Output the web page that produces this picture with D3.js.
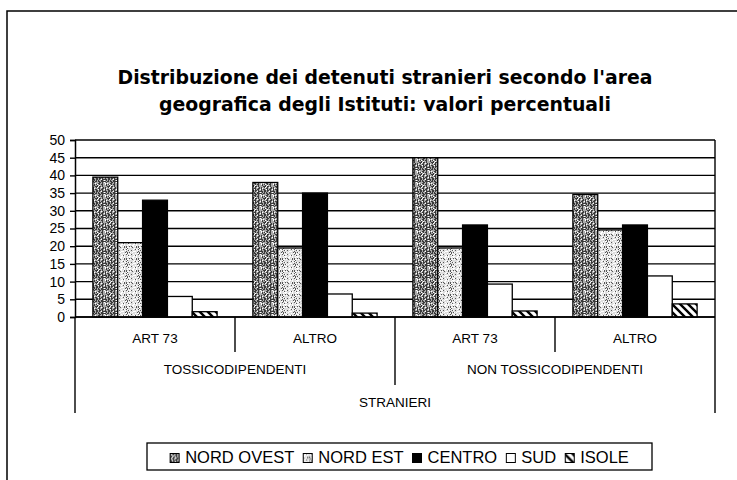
<!DOCTYPE html>
<html>
<head>
<meta charset="utf-8">
<script src="https://cdn.jsdelivr.net/npm/d3@7"></script>
<style>
  html, body { margin: 0; padding: 0; background: #fff; }
  svg { display: block; }
  text { font-family: "Liberation Sans", Arial, sans-serif; fill: #000; }
</style>
</head>
<body>
<svg id="chart" width="737" height="480"></svg>
<script>
// Groups along the category axis (inner level) and their parents
const groups = ["T-ART73", "T-ALTRO", "N-ART73", "N-ALTRO"];
const groupLabels = ["ART 73", "ALTRO", "ART 73", "ALTRO"];
const parentLabels = ["TOSSICODIPENDENTI", "NON TOSSICODIPENDENTI"];
const topLabel = "STRANIERI";

// Geographic areas (series)
const series = ["NORD OVEST", "NORD EST", "CENTRO", "SUD", "ISOLE"];

// Percentage values per area, one entry per group
const nordOvest = [39.5, 38, 45, 34.6];
const nordEst   = [21, 19.5, 19.5, 24.6];
const centro    = [33, 35, 26, 26];
const sud       = [5.8, 6.5, 9.3, 11.6];
const isole     = [1.5, 1.1, 1.7, 3.7];

const yTicks = [0, 5, 10, 15, 20, 25, 30, 35, 40, 45, 50];

const titleLines = [
  "Distribuzione dei detenuti stranieri secondo l'area",
  "geografica degli Istituti: valori percentuali"
];

const valuesBySeries = [nordOvest, nordEst, centro, sud, isole];

const svg = d3.select("#chart");

// ---- fill patterns ----
const defs = svg.append("defs");

// deterministic pseudo-noise for the stippled fills
function hashNoise(i, j, seed) {
  const s = Math.sin(i * 127.1 + j * 311.7 + seed * 74.7) * 43758.5453;
  return s - Math.floor(s);
}

// NORD OVEST: dark stipple with vertical grain
const pNO = defs.append("pattern").attr("id", "pNO")
  .attr("patternUnits", "userSpaceOnUse").attr("width", 12).attr("height", 12);
pNO.append("rect").attr("width", 12).attr("height", 12).attr("fill", "#aaaaaa");
for (let i = 0; i < 12; i++) for (let j = 0; j < 12; j++) {
  const n = hashNoise(i, j, 1);
  const dark = (i % 3 === 0) ? n < 0.65 : n < 0.3;
  if (dark) pNO.append("rect").attr("x", i).attr("y", j).attr("width", 1).attr("height", 1).attr("fill", "#3a3a3a");
  else if (n > 0.88) pNO.append("rect").attr("x", i).attr("y", j).attr("width", 1).attr("height", 1).attr("fill", "#fff");
}

// NORD EST: light speckle
const pNE = defs.append("pattern").attr("id", "pNE")
  .attr("patternUnits", "userSpaceOnUse").attr("width", 12).attr("height", 12);
pNE.append("rect").attr("width", 12).attr("height", 12).attr("fill", "#dedede");
for (let i = 0; i < 12; i++) for (let j = 0; j < 12; j++) {
  const n = hashNoise(i, j, 7);
  if (n < 0.2) pNE.append("rect").attr("x", i).attr("y", j).attr("width", 1).attr("height", 1).attr("fill", "#555");
  else if (n > 0.75) pNE.append("rect").attr("x", i).attr("y", j).attr("width", 1).attr("height", 1).attr("fill", "#fff");
}

// ISOLE: diagonal hatch
const pIS = defs.append("pattern").attr("id", "pIS")
  .attr("patternUnits", "userSpaceOnUse").attr("width", 8).attr("height", 8);
pIS.append("rect").attr("width", 8).attr("height", 8).attr("fill", "#fff");
pIS.append("path").attr("d", "M-2,-2 L10,10 M-2,6 L2,10 M6,-2 L10,2")
  .attr("stroke", "#000").attr("stroke-width", 2.4);

const fills = ["url(#pNO)", "url(#pNE)", "#000", "#fff", "url(#pIS)"];

// ---- outer frame ----
svg.append("path").attr("d", "M7,480 V11 H737")
  .attr("fill", "none").attr("stroke", "#000").attr("stroke-width", 1.5);

// ---- title ----
const title = svg.append("g").attr("text-anchor", "middle")
  .style("font-weight", "bold").style("font-size", "20px");
const titleWidths = [535, 452];
titleLines.forEach((t, i) => {
  title.append("text").attr("x", 385).attr("y", 84 + i * 27)
    .style("font-family", "'DejaVu Sans Condensed', 'DejaVu Sans', sans-serif")
    .attr("textLength", titleWidths[i]).attr("lengthAdjust", "spacingAndGlyphs")
    .text(t);
});

// ---- scales ----
const plot = { left: 75, right: 715, top: 140, bottom: 317 };
const x0 = d3.scaleBand().domain(groups).range([plot.left, plot.right]).padding(0);
const x1 = d3.scaleBand().domain(series).range([0, x0.bandwidth()])
  .paddingInner(0).paddingOuter(0.72);
const y = d3.scaleLinear().domain([0, 50]).range([plot.bottom, plot.top]);

// ---- gridlines ----
svg.append("g").selectAll("line").data(yTicks).join("line")
  .attr("x1", plot.left).attr("x2", plot.right)
  .attr("y1", d => y(d)).attr("y2", d => y(d))
  .attr("stroke", "#000").attr("stroke-width", 1.4);

// right edge of plot area
svg.append("line").attr("x1", plot.right).attr("x2", plot.right)
  .attr("y1", plot.top).attr("y2", plot.bottom)
  .attr("stroke", "#000").attr("stroke-width", 1.4);

// ---- y axis ----
const yAxis = d3.axisLeft(y).tickValues(yTicks).tickSize(5).tickPadding(5);
const yg = svg.append("g").attr("transform", `translate(${plot.left},0)`).call(yAxis);
yg.select(".domain").attr("stroke", "#000").attr("stroke-width", 1.5);
yg.selectAll(".tick line").attr("stroke", "#000").attr("stroke-width", 1.4);
yg.selectAll(".tick text").style("font-size", "14px").attr("fill", "#000")
  .style("font-family", "'Liberation Sans', Arial, sans-serif");

// ---- bars ----
const barData = [];
groups.forEach((g, gi) => {
  series.forEach((s, si) => {
    barData.push({ group: g, series: s, si, value: valuesBySeries[si][gi] });
  });
});
svg.append("g").selectAll("rect").data(barData).join("rect")
  .attr("x", d => x0(d.group) + x1(d.series))
  .attr("y", d => y(d.value))
  .attr("width", x1.bandwidth())
  .attr("height", d => y(0) - y(d.value))
  .attr("fill", d => fills[d.si])
  .attr("stroke", "#000").attr("stroke-width", 1.3);

// zero line on top of bars
svg.append("line").attr("x1", plot.left).attr("x2", plot.right)
  .attr("y1", y(0)).attr("y2", y(0)).attr("stroke", "#000").attr("stroke-width", 1.5);

// ---- multi-level category axis ----
const cat = svg.append("g");
const catLine = (xp, y2) => cat.append("line")
  .attr("x1", xp).attr("x2", xp).attr("y1", y(0)).attr("y2", y2)
  .attr("stroke", "#000").attr("stroke-width", 1.4);

// level 1 separators and labels
groups.forEach((g, gi) => {
  if (gi === 1 || gi === 3) catLine(x0(g), 352);
  cat.append("text").attr("x", x0(g) + x0.bandwidth() / 2).attr("y", 343)
    .attr("text-anchor", "middle").style("font-size", "13.5px").text(groupLabels[gi]);
});
// level 2 separator and labels
catLine(x0(groups[2]), 385);
parentLabels.forEach((p, pi) => {
  const cx = x0(groups[pi * 2]) + x0.bandwidth();
  cat.append("text").attr("x", cx).attr("y", 374)
    .attr("text-anchor", "middle").style("font-size", "13.5px").text(p);
});
// outer edges and top-level label
catLine(plot.left, 413);
catLine(plot.right, 413);
cat.append("text").attr("x", (plot.left + plot.right) / 2).attr("y", 407)
  .attr("text-anchor", "middle").style("font-size", "13.5px").text(topLabel);

// ---- legend ----
const legend = svg.append("g");
const legendBox = { x: 147, y: 443, w: 505, h: 27 };
legend.append("rect").attr("x", legendBox.x).attr("y", legendBox.y)
  .attr("width", legendBox.w).attr("height", legendBox.h)
  .attr("fill", "#fff").attr("stroke", "#000").attr("stroke-width", 1.3);

const symSize = 9, symGap = 6, itemGap = 9;
const items = legend.selectAll("g.item").data(series).join("g").attr("class", "item");
items.append("rect").attr("width", symSize).attr("height", symSize)
  .attr("y", -symSize)
  .attr("fill", (d, i) => fills[i]).attr("stroke", "#000").attr("stroke-width", 1);
items.append("text").attr("x", symSize + symGap).attr("y", 0)
  .style("font-size", "16.5px").text(d => d);

// place items left to right by measured width, centred in the box
const widths = [];
items.each(function () { widths.push(this.getBBox().width); });
const total = d3.sum(widths) + itemGap * (widths.length - 1);
let cx = legendBox.x + (legendBox.w - total) / 2;
items.attr("transform", (d, i) => {
  const t = `translate(${cx},${legendBox.y + 19.5})`;
  cx += widths[i] + itemGap;
  return t;
});
</script>
</body>
</html>
